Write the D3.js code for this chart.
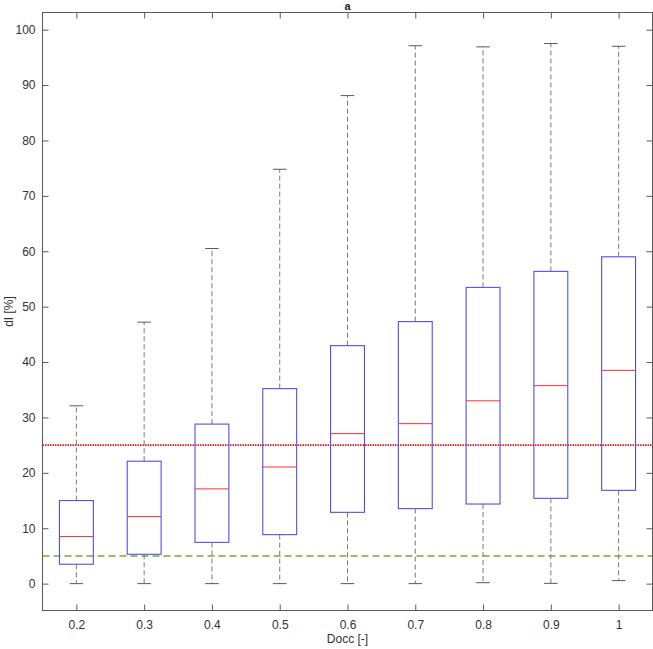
<!DOCTYPE html>
<html><head><meta charset="utf-8">
<script src="https://cdn.jsdelivr.net/npm/d3@7"></script>
<style>body{margin:0;background:#fff}svg{display:block;font-family:"Liberation Sans",Arial,sans-serif}</style>
</head><body><svg id="c" width="653" height="649"></svg>
<script>
const categories = ["0.2","0.3","0.4","0.5","0.6","0.7","0.8","0.9","1"];
const whiskerLow  = [0, 0, 0, 0, 0, 0, 0.17, 0.05, 0.55];
const q1          = [3.5, 5.3, 7.45, 8.84, 12.87, 13.54, 14.37, 15.4, 16.84];
const medians     = [8.5, 12.1, 17.1, 21.05, 27.08, 28.88, 33.0, 35.74, 38.5];
const q3          = [15.0, 22.1, 28.8, 35.2, 42.96, 47.3, 53.48, 56.37, 59.0];
const whiskerHigh = [32.1, 47.2, 60.5, 74.8, 88.1, 97.1, 96.9, 97.5, 97.0];
const yTicks = [0,10,20,30,40,50,60,70,80,90,100];
const refRed = 25, refGreen = 5;

const svg = d3.select("#c");
const L = 42.5, R = 652.5, T = 12.5, B = 610.5;
const x = d3.scaleLinear().domain([0.5, 9.5]).range([L, R]);
const y = d3.scaleLinear().domain([-4.85, 103.1]).range([B, T]);
const axisCol = "#5a5a5a";

// reference lines
svg.append("line").attr("x1",L).attr("x2",R).attr("y1",y(refRed)).attr("y2",y(refRed))
  .attr("stroke","#e8141a").attr("stroke-width",1.6).attr("stroke-dasharray","1.5,1");
svg.append("line").attr("x1",L).attr("x2",R).attr("y1",y(refGreen)).attr("y2",y(refGreen))
  .attr("stroke","#77ac30").attr("stroke-width",1.5).attr("stroke-dasharray","7,4");

const bw = x(1.25)-x(1); // half box width (0.25)
const cw = x(1.1)-x(1);
const g = svg.append("g");
categories.forEach((c,i)=>{
  const cx = x(i+1);
  g.append("line").attr("x1",cx).attr("x2",cx).attr("y1",y(q3[i])).attr("y2",y(whiskerHigh[i]))
    .attr("stroke","#7a7a7a").attr("stroke-width",1).attr("stroke-dasharray","5,3");
  g.append("line").attr("x1",cx).attr("x2",cx).attr("y1",y(q1[i])).attr("y2",y(whiskerLow[i]))
    .attr("stroke","#7a7a7a").attr("stroke-width",1).attr("stroke-dasharray","5,3");
  g.append("line").attr("x1",cx-cw).attr("x2",cx+cw).attr("y1",y(whiskerHigh[i])).attr("y2",y(whiskerHigh[i]))
    .attr("stroke","#5a5a5a").attr("stroke-width",1);
  g.append("line").attr("x1",cx-cw).attr("x2",cx+cw).attr("y1",y(whiskerLow[i])).attr("y2",y(whiskerLow[i]))
    .attr("stroke","#5a5a5a").attr("stroke-width",1);
  g.append("rect").attr("x",cx-bw).attr("width",2*bw).attr("y",y(q3[i])).attr("height",y(q1[i])-y(q3[i]))
    .attr("fill","none").attr("stroke","#5050e6").attr("stroke-width",1.1);
  g.append("line").attr("x1",cx-bw).attr("x2",cx+bw).attr("y1",y(medians[i])).attr("y2",y(medians[i]))
    .attr("stroke","#ff3030").attr("stroke-width",1);
});

// axes
const tickLen = 6;
const xa = svg.append("g").attr("transform",`translate(0,${B})`)
  .call(d3.axisBottom(x).tickValues(d3.range(1,10)).tickFormat((d)=>categories[d-1]).tickSizeInner(-tickLen).tickSizeOuter(0).tickPadding(10));
const xt = svg.append("g").attr("transform",`translate(0,${T})`)
  .call(d3.axisTop(x).tickValues(d3.range(1,10)).tickFormat("").tickSizeInner(-tickLen).tickSizeOuter(0));
const ya = svg.append("g").attr("transform",`translate(${L},0)`)
  .call(d3.axisLeft(y).tickValues(yTicks).tickSizeInner(-tickLen).tickSizeOuter(0).tickPadding(7));
const yr = svg.append("g").attr("transform",`translate(${R},0)`)
  .call(d3.axisRight(y).tickValues(yTicks).tickFormat("").tickSizeInner(-tickLen).tickSizeOuter(0));
[xa,xt,ya,yr].forEach(a=>{
  a.select(".domain").remove();
  a.selectAll("line").attr("stroke",axisCol);
  a.selectAll("text").attr("fill","#333").style("font-size","12px").style("font-family","Liberation Sans, Arial, sans-serif");
});
svg.append("rect").attr("x",L).attr("y",T).attr("width",R-L).attr("height",B-T)
  .attr("fill","none").attr("stroke",axisCol).attr("stroke-width",1);

// labels
svg.append("text").attr("x",(L+R)/2).attr("y",10).attr("text-anchor","middle")
  .style("font-size","11px").style("font-weight","bold").attr("fill","#222").text("a");
svg.append("text").attr("x",(L+R)/2).attr("y",643).attr("text-anchor","middle")
  .style("font-size","12px").attr("fill","#333").text("Docc [-]");
svg.append("text").attr("transform",`translate(13,${(T+B)/2}) rotate(-90)`).attr("text-anchor","middle")
  .style("font-size","12px").attr("fill","#333").text("dI [%]");
</script></body></html>
